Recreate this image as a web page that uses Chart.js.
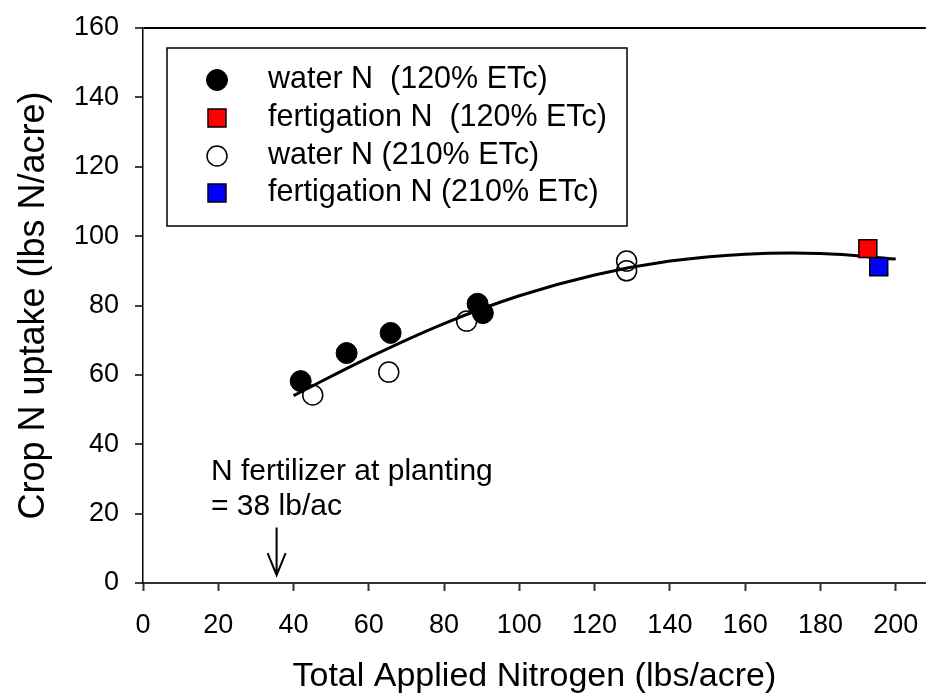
<!DOCTYPE html>
<html>
<head>
<meta charset="utf-8">
<script src="https://cdn.jsdelivr.net/npm/chart.js@4.4.0/dist/chart.umd.min.js"></script>
<style>
  html, body { margin: 0; padding: 0; background: #fff; overflow: hidden; }
  #wrap { width: 926px; height: 697px; overflow: hidden; }
  canvas { display: block; }
</style>
</head>
<body>
<!-- canvas is a bit wider than the window: the point overflow padding Chart.js adds on the right falls outside -->
<div id="wrap"><canvas id="chart" width="940" height="697"></canvas></div>
<script>
// values
const water120X = [41.9, 54.1, 65.8, 88.9, 90.3];
const water120Y = [58.2, 66.3, 72.1, 80.5, 77.8];
const fert120X = [192.6];
const fert120Y = [96.4];
const water210X = [45.1, 65.3, 86.0, 128.5, 128.5];
const water210Y = [54.2, 60.8, 75.5, 92.8, 90.0];
const fert210X = [195.5];
const fert210Y = [91.2];
// fitted curve as drawn
const curveX = [40, 60, 80, 100, 120, 140, 160, 180, 200];
const curveY = [54.0, 65.0, 74.8, 82.8, 88.8, 92.8, 94.8, 95.0, 93.4];
const xTicks = [0, 20, 40, 60, 80, 100, 120, 140, 160, 180, 200];
const yTicks = [0, 20, 40, 60, 80, 100, 120, 140, 160];
const seriesNames = ['water N  (120% ETc)', 'fertigation N  (120% ETc)', 'water N (210% ETc)', 'fertigation N (210% ETc)'];
const noteLines = ['N fertilizer at planting', '= 38 lb/ac'];
const arrowX = 35.5;

const FONT = "'Liberation Sans', Arial, sans-serif";

function pts(xs, ys) {
  return xs.map((x, i) => ({ x: x, y: ys[i] }));
}

const ctx = document.getElementById('chart').getContext('2d');

// legend box drawn inside the plot, plus the note and arrow
const extras = {
  id: 'extras',
  afterDatasetsDraw(chart) {
    const c = chart.ctx;
    const xs = chart.scales.x, ys = chart.scales.y;
    c.save();
    // legend
    c.strokeStyle = '#000';
    c.lineWidth = 1.5;
    c.strokeRect(167, 48, 460, 178);
    const rowY = [80, 118, 156, 193];
    c.font = '30.5px ' + FONT;
    c.textBaseline = 'middle';
    c.textAlign = 'left';
    for (let i = 0; i < 4; i++) {
      const ds = chart.data.datasets[i];
      c.fillStyle = ds.backgroundColor;
      c.strokeStyle = ds.borderColor;
      c.lineWidth = ds.borderWidth;
      c.beginPath();
      if (ds.pointStyle === 'rect') {
        const s = ds.pointRadius * Math.SQRT1_2;
        c.rect(217 - s, rowY[i] - s, 2 * s, 2 * s);
      } else {
        c.arc(217, rowY[i], ds.pointRadius, 0, Math.PI * 2);
      }
      c.fill();
      c.stroke();
      c.fillStyle = '#000';
      c.fillText(seriesNames[i], 268, rowY[i]);
    }
    // note
    c.font = '30px ' + FONT;
    c.textBaseline = 'alphabetic';
    c.fillText(noteLines[0], 211, 480);
    c.fillText(noteLines[1], 211, 515);
    // arrow
    const ax = xs.getPixelForValue(arrowX);
    const top = ys.getPixelForValue(16);
    const tip = ys.getPixelForValue(2.3);
    c.strokeStyle = '#000';
    c.lineWidth = 2;
    c.beginPath();
    c.moveTo(ax, top);
    c.lineTo(ax, tip);
    c.moveTo(ax - 9, tip - 22);
    c.lineTo(ax, tip);
    c.lineTo(ax + 9, tip - 22);
    c.stroke();
    c.restore();
  }
};

const chart = new Chart(ctx, {
  type: 'scatter',
  data: {
    datasets: [
      {
        label: seriesNames[0],
        data: pts(water120X, water120Y),
        pointStyle: 'circle',
        pointRadius: 10.5,
        backgroundColor: '#000',
        borderColor: '#000',
        borderWidth: 1,
        order: 1
      },
      {
        label: seriesNames[1],
        data: pts(fert120X, fert120Y),
        pointStyle: 'rect',
        pointRadius: 12.7,
        backgroundColor: '#ff0000',
        borderColor: '#000',
        borderWidth: 1.5,
        order: 0
      },
      {
        label: seriesNames[2],
        data: pts(water210X, water210Y),
        pointStyle: 'circle',
        pointRadius: 10,
        backgroundColor: 'rgba(255,255,255,0)',
        borderColor: '#000',
        borderWidth: 1.5,
        order: 3
      },
      {
        label: seriesNames[3],
        data: pts(fert210X, fert210Y),
        pointStyle: 'rect',
        pointRadius: 12.7,
        backgroundColor: '#0000ff',
        borderColor: '#000',
        borderWidth: 1.5,
        order: 0
      },
      {
        type: 'line',
        label: 'fit',
        data: pts(curveX, curveY),
        showLine: true,
        borderColor: '#000',
        borderWidth: 3,
        pointRadius: 0,
        tension: 0.4,
        fill: false,
        order: 2
      }
    ]
  },
  options: {
    responsive: false,
    animation: false,
    layout: { padding: { left: 0, top: 28, right: 0, bottom: 0 } },
    plugins: {
      legend: { display: false },
      tooltip: { enabled: false }
    },
    scales: {
      x: {
        type: 'linear',
        min: 0,
        max: 208,
        afterBuildTicks: (scale) => {
          scale.ticks = xTicks.map(v => ({ value: v }));
        },
        afterFit: (scale) => {
          scale.height = 114;
          scale.paddingLeft = 0;
          scale.paddingRight = 0;
        },
        ticks: {
          color: '#000',
          font: { family: FONT, size: 27 },
          padding: 18,
          maxRotation: 0,
          autoSkip: false
        },
        grid: {
          drawOnChartArea: false,
          color: 'rgba(0,0,0,0)',
          tickColor: '#333',
          tickLength: 8,
          tickWidth: 2
        },
        border: { color: '#333', width: 2 },
        title: {
          display: true,
          text: 'Total Applied Nitrogen (lbs/acre)',
          color: '#000',
          font: { family: FONT, size: 34 },
          padding: { top: 0, bottom: 0 }
        }
      },
      y: {
        min: 0,
        max: 160,
        afterBuildTicks: (scale) => {
          scale.ticks = yTicks.map(v => ({ value: v }));
        },
        afterFit: (scale) => {
          scale.width = 143;
          scale.paddingTop = 0;
          scale.paddingBottom = 0;
        },
        ticks: {
          color: '#000',
          font: { family: FONT, size: 27 },
          padding: 16
        },
        grid: {
          color: (c) => (c.tick && c.tick.value === 160 ? '#000' : 'rgba(0,0,0,0)'),
          lineWidth: 2,
          tickColor: '#000',
          tickLength: 8,
          tickWidth: 1.5
        },
        border: { color: '#000', width: 1.5 },
        title: {
          display: true,
          text: 'Crop N uptake (lbs N/acre)',
          color: '#000',
          font: { family: FONT, size: 36 },
          padding: { top: 12, bottom: 0 }
        }
      }
    }
  },
  plugins: [extras]
});
</script>
</body>
</html>
